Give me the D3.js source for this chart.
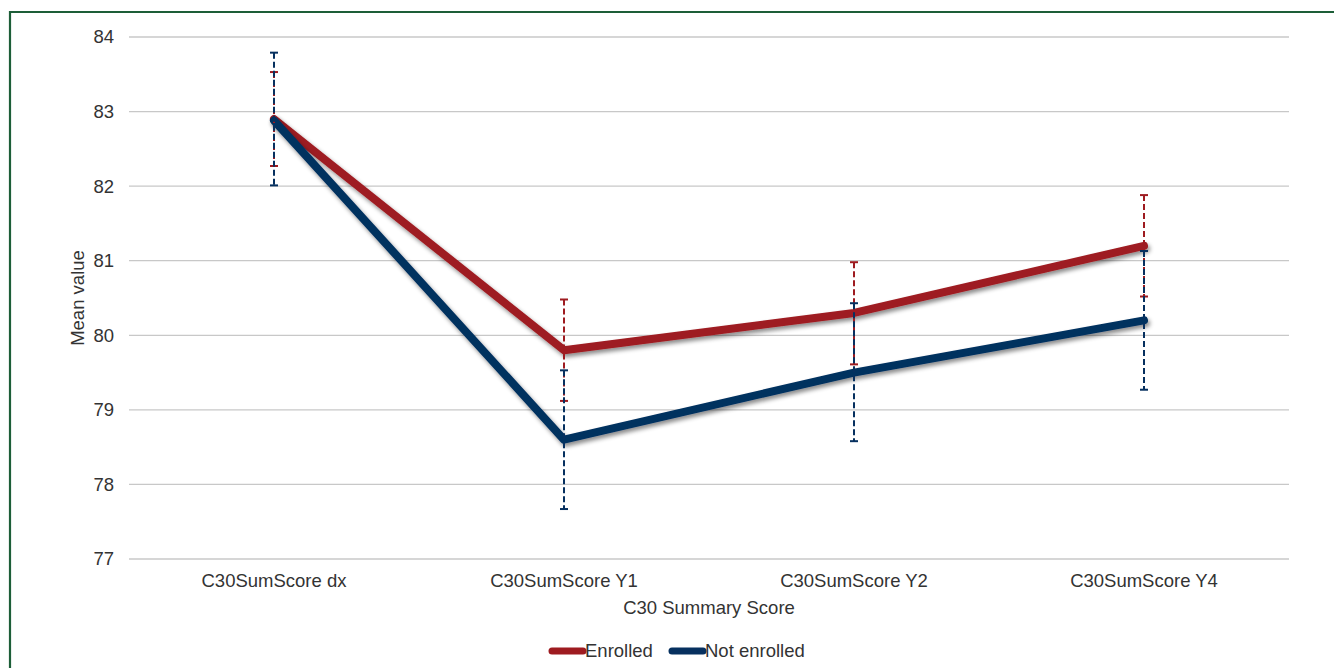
<!DOCTYPE html>
<html>
<head>
<meta charset="utf-8">
<script src="https://cdn.jsdelivr.net/npm/d3@7"></script>
<style>
  html, body { margin: 0; padding: 0; background: #fff; }
  svg { display: block; font-family: "Liberation Sans", Arial, sans-serif; }
</style>
</head>
<body>
<svg id="chart" width="1334" height="668"></svg>
<script>
const categories = ["C30SumScore dx", "C30SumScore Y1", "C30SumScore Y2", "C30SumScore Y4"];
const enrolled = [82.9, 79.8, 80.3, 81.2];
const enrolledLower = [82.27, 79.12, 79.61, 80.52];
const enrolledUpper = [83.53, 80.48, 80.98, 81.88];
const notEnrolled = [82.88, 78.6, 79.5, 80.2];
const notEnrolledLower = [82.01, 77.67, 78.58, 79.27];
const notEnrolledUpper = [83.79, 79.53, 80.43, 81.13];
const yTicks = [77, 78, 79, 80, 81, 82, 83, 84];
const seriesNames = ["Enrolled", "Not enrolled"];
const colors = ["#9e1b20", "#06305f"];

const svg = d3.select("#chart");
const W = 1334, H = 668;
const FS = 18.5;

// frame
svg.append("path")
  .attr("d", `M10,${H} L10,12 L${W},12`)
  .attr("fill", "none").attr("stroke", "#1d5e38").attr("stroke-width", 2.2);

const defs = svg.append("defs");
const f = defs.append("filter").attr("id", "shadow")
  .attr("x", "-10%").attr("y", "-10%").attr("width", "120%").attr("height", "130%");
f.append("feDropShadow").attr("dx", 2).attr("dy", 3).attr("stdDeviation", 2.2)
  .attr("flood-color", "#000").attr("flood-opacity", 0.45);

const x = d3.scaleBand().domain(categories).range([129, 1289]);
const y = d3.scaleLinear().domain([77, 84]).range([559, 37]);
const cx = d => x(d) + x.bandwidth() / 2;

// gridlines
svg.append("g").selectAll("line").data(yTicks).join("line")
  .attr("x1", 129).attr("x2", 1289)
  .attr("y1", d => y(d)).attr("y2", d => y(d))
  .attr("stroke", "#c8c8c8").attr("stroke-width", 1.3);

// y tick labels
svg.append("g").selectAll("text").data(yTicks).join("text")
  .attr("x", 114).attr("y", d => y(d)).attr("dy", "0.35em")
  .attr("text-anchor", "end").attr("font-size", FS).attr("fill", "#333")
  .text(d => d);

// x labels
svg.append("g").selectAll("text").data(categories).join("text")
  .attr("x", d => cx(d)).attr("y", 587)
  .attr("text-anchor", "middle").attr("font-size", FS).attr("fill", "#333")
  .text(d => d);

svg.append("text").attr("x", 709).attr("y", 614).attr("text-anchor", "middle")
  .attr("font-size", FS).attr("fill", "#333").text("C30 Summary Score");
svg.append("text").attr("transform", `translate(84,298) rotate(-90)`)
  .attr("text-anchor", "middle").attr("font-size", FS).attr("fill", "#333").text("Mean value");

const series = [
  { vals: enrolled, lo: enrolledLower, hi: enrolledUpper, color: colors[0] },
  { vals: notEnrolled, lo: notEnrolledLower, hi: notEnrolledUpper, color: colors[1] }
];

const line = d3.line().x((d, i) => cx(categories[i])).y(d => y(d));

series.forEach(s => {
  svg.append("path").datum(s.vals)
    .attr("d", line).attr("fill", "none")
    .attr("stroke", s.color).attr("stroke-width", 8)
    .attr("stroke-linejoin", "round").attr("stroke-linecap", "round")
    .attr("filter", "url(#shadow)");
});

series.forEach(s => {
  const g = svg.append("g");
  categories.forEach((c, i) => {
    const xx = cx(c);
    g.append("line").attr("x1", xx).attr("x2", xx)
      .attr("y1", y(s.hi[i])).attr("y2", y(s.lo[i]))
      .attr("stroke", s.color).attr("stroke-width", 2)
      .attr("stroke-dasharray", "6,3");
    [s.hi[i], s.lo[i]].forEach(v => {
      g.append("line").attr("x1", xx - 4).attr("x2", xx + 4)
        .attr("y1", y(v)).attr("y2", y(v))
        .attr("stroke", s.color).attr("stroke-width", 2);
    });
  });
});

// legend
const leg = [
  { name: seriesNames[0], color: colors[0], x: 552 },
  { name: seriesNames[1], color: colors[1], x: 672 }
];
leg.forEach(l => {
  svg.append("line").attr("x1", l.x).attr("x2", l.x + 31)
    .attr("y1", 651).attr("y2", 651)
    .attr("stroke", l.color).attr("stroke-width", 7).attr("stroke-linecap", "round");
  svg.append("text").attr("x", l.x + 33).attr("y", 651).attr("dy", "0.35em")
    .attr("font-size", FS).attr("fill", "#333").text(l.name);
});
</script>
</body>
</html>
